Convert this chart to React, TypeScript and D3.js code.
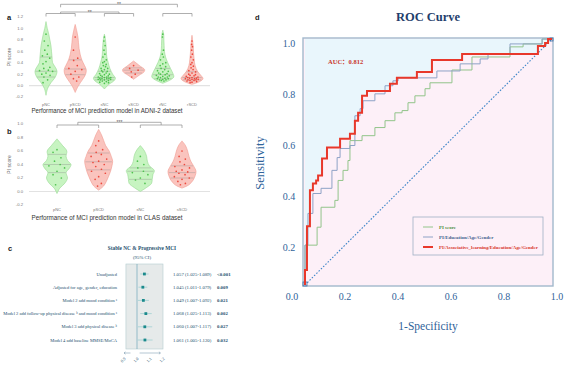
import * as d3 from 'd3';

// ---------- panel a : ADNI-2 ----------
const adniGroups = ['pNC', 'pSCD', 'sNC', 'sSCD', 'rNC', 'rSCD'];
const adniTicks = [-0.2, 0, 0.2, 0.4, 0.6, 0.8, 1.0, 1.2];
// violin outline: PI score values and relative density at each
const adniShapeV = [
  [-0.17, -0.05, 0.05, 0.15, 0.25, 0.32, 0.4, 0.5, 0.6, 0.7, 0.8, 0.9, 1.0, 1.12],
  [-0.12, 0, 0.1, 0.2, 0.28, 0.35, 0.45, 0.55, 0.65, 0.75, 0.85, 0.95, 1.07],
  [-0.06, 0.02, 0.08, 0.13, 0.2, 0.3, 0.4, 0.5, 0.6, 0.7, 0.8, 0.9],
  [0.11, 0.18, 0.24, 0.28, 0.34, 0.43],
  [0.04, 0.1, 0.15, 0.2, 0.3, 0.4, 0.5, 0.6, 0.7, 0.8, 0.9, 0.97],
  [0.02, 0.07, 0.12, 0.18, 0.25, 0.35, 0.45, 0.55, 0.65, 0.75, 0.88],
];
const adniShapeW = [
  [0, 0.15, 0.45, 0.85, 1.0, 0.85, 0.6, 0.55, 0.5, 0.45, 0.35, 0.25, 0.12, 0],
  [0, 0.3, 0.65, 0.95, 1.0, 0.85, 0.6, 0.45, 0.35, 0.3, 0.25, 0.15, 0],
  [0, 0.4, 0.85, 1.0, 0.75, 0.5, 0.35, 0.22, 0.18, 0.15, 0.1, 0],
  [0, 0.5, 0.95, 1.0, 0.6, 0],
  [0, 0.7, 1.0, 0.95, 0.7, 0.45, 0.25, 0.15, 0.12, 0.1, 0.08, 0],
  [0, 0.7, 1.0, 0.8, 0.5, 0.28, 0.2, 0.15, 0.12, 0.08, 0],
];
const adniQuart = [
  [0.15, 0.25, 0.5],
  [0.19, 0.29, 0.45],
  [0.1, 0.14, 0.25],
  [0.22, 0.27, 0.31],
  [0.12, 0.19, 0.3],
  [0.1, 0.14, 0.24],
];
const adniPoints = [
  [0.9, 0.78, 0.7, 0.62, 0.55, 0.52, 0.48, 0.42, 0.38, 0.32, 0.3, 0.27, 0.26, 0.25, 0.22, 0.2, 0.18, 0.15, 0.1, 0.05],
  [0.85, 0.62, 0.48, 0.44, 0.35, 0.3, 0.28, 0.25, 0.2, 0.15, 0.12, 0.08],
  [0.85, 0.78, 0.7, 0.62, 0.55, 0.5, 0.45, 0.42, 0.4, 0.37, 0.35, 0.33, 0.3, 0.3, 0.28, 0.26, 0.25, 0.24, 0.22, 0.21, 0.2, 0.19,
    0.18, 0.17, 0.16, 0.15, 0.15, 0.14, 0.14, 0.13, 0.13, 0.12, 0.12, 0.11, 0.11, 0.1, 0.1, 0.09, 0.08, 0.07, 0.06, 0.05, 0.04],
  [0.35, 0.3, 0.27, 0.24, 0.2, 0.15],
  [0.9, 0.85, 0.62, 0.55, 0.5, 0.45, 0.4, 0.38, 0.35, 0.33, 0.3, 0.28, 0.26, 0.25, 0.24, 0.22, 0.21, 0.2, 0.19, 0.18, 0.17,
    0.16, 0.15, 0.15, 0.14, 0.13, 0.12, 0.12, 0.11, 0.1, 0.1, 0.09, 0.08],
  [0.78, 0.72, 0.68, 0.62, 0.55, 0.5, 0.45, 0.4, 0.37, 0.34, 0.31, 0.28, 0.26, 0.24, 0.22, 0.2, 0.19, 0.18, 0.17, 0.16, 0.15,
    0.14, 0.14, 0.13, 0.13, 0.12, 0.12, 0.11, 0.11, 0.1, 0.1, 0.09, 0.09, 0.08, 0.07, 0.06, 0.05],
];

// ---------- panel b : CLAS ----------
const clasGroups = ['pNC', 'pSCD', 'sNC', 'sSCD'];
const clasTicks = [-0.2, 0, 0.2, 0.4, 0.6, 0.8, 1.0];
const clasShapeV = [
  [-0.03, 0.05, 0.12, 0.2, 0.28, 0.35, 0.4, 0.46, 0.52, 0.6, 0.68, 0.78],
  [0.02, 0.08, 0.15, 0.22, 0.3, 0.38, 0.45, 0.52, 0.6, 0.68, 0.76, 0.84, 0.92],
  [0.0, 0.06, 0.12, 0.18, 0.25, 0.31, 0.38, 0.45, 0.52, 0.6, 0.68],
  [0.05, 0.1, 0.17, 0.24, 0.3, 0.37, 0.44, 0.52, 0.6, 0.68, 0.75],
];
const clasShapeW = [
  [0, 0.2, 0.55, 0.75, 0.65, 0.9, 1.0, 0.75, 0.65, 0.7, 0.4, 0],
  [0, 0.35, 0.55, 0.7, 0.85, 0.95, 1.0, 0.9, 0.75, 0.5, 0.35, 0.2, 0],
  [0, 0.45, 0.8, 0.85, 0.9, 1.0, 0.65, 0.5, 0.45, 0.3, 0],
  [0, 0.5, 0.8, 0.95, 1.0, 0.85, 0.65, 0.5, 0.4, 0.25, 0],
];
const clasQuart = [
  [0.28, 0.4, 0.55],
  [0.32, 0.44, 0.57],
  [0.18, 0.3, 0.35],
  [0.2, 0.28, 0.38],
];
const clasPoints = [
  [0.62, 0.58, 0.5, 0.45, 0.4, 0.38, 0.35, 0.3, 0.25, 0.2, 0.1],
  [0.75, 0.68, 0.62, 0.58, 0.55, 0.52, 0.48, 0.45, 0.43, 0.4, 0.37, 0.33, 0.3, 0.27, 0.22, 0.18, 0.12, 0.08],
  [0.52, 0.45, 0.4, 0.35, 0.3, 0.28, 0.25, 0.2, 0.17, 0.12],
  [0.6, 0.52, 0.48, 0.44, 0.4, 0.37, 0.35, 0.32, 0.3, 0.29, 0.27, 0.25, 0.22, 0.2, 0.18, 0.15, 0.12, 0.1],
];

// ---------- panel c : forest plot ----------
const forestLabels = [
  'Unadjusted',
  'Adjusted for age, gender, education',
  'Model 2 add mood condition \u1d43',
  'Model 2 add follow-up physical disease \u1d47 and mood condition \u1d43',
  'Model 3 add physical disease \u1d47',
  'Model 4 add baseline MMSE/MoCA',
];
const forestOr = [1.057, 1.045, 1.049, 1.068, 1.06, 1.061];
const forestLo = [1.025, 1.011, 1.007, 1.025, 1.007, 1.005];
const forestHi = [1.089, 1.079, 1.092, 1.113, 1.117, 1.12];
const forestP = ['<0.001', '0.009', '0.021', '0.002', '0.027', '0.032'];
const forestTicks = [0.9, 1.0, 1.1, 1.2];

// ---------- panel d : ROC ----------
const rocTicks = [0, 0.2, 0.4, 0.6, 0.8, 1.0];
const piFpr = [0, 0.049, 0.065, 0.121, 0.134, 0.154, 0.174, 0.182, 0.231, 0.283, 0.324, 0.364, 0.393, 0.417, 0.445, 0.486, 0.506, 0.595, 0.676, 0.83, 0.883, 0.96, 1];
const piTpr = [0, 0.162, 0.235, 0.316, 0.344, 0.425, 0.466, 0.506, 0.587, 0.607, 0.64, 0.668, 0.7, 0.709, 0.741, 0.769, 0.798, 0.822, 0.874, 0.927, 0.968, 0.98, 1];
const pegFpr = [0, 0.012, 0.032, 0.065, 0.109, 0.13, 0.142, 0.182, 0.202, 0.223, 0.235, 0.283, 0.324, 0.356, 0.377, 0.534, 0.628, 0.709, 0.741, 0.83, 0.96, 1];
const pegTpr = [0, 0.162, 0.291, 0.372, 0.393, 0.466, 0.518, 0.555, 0.567, 0.688, 0.717, 0.749, 0.777, 0.81, 0.83, 0.842, 0.87, 0.899, 0.919, 0.939, 0.98, 1];
const paegFpr = [0, 0.008, 0.02, 0.032, 0.045, 0.053, 0.069, 0.089, 0.142, 0.182, 0.202, 0.215, 0.231, 0.251, 0.344, 0.372, 0.453, 0.514, 0.636, 0.943, 0.972, 0.984, 1];
const paegTpr = [0, 0.061, 0.239, 0.385, 0.413, 0.425, 0.445, 0.514, 0.559, 0.595, 0.615, 0.668, 0.7, 0.769, 0.789, 0.818, 0.842, 0.866, 0.915, 0.939, 0.972, 0.984, 1];
const rocNames = ['PI score', 'PI/Education/Age/Gender', 'PI/Associative_learning/Education/Age/Gender'];
const aucText = 'AUC\uff1a0.812';

const SANS = '"Liberation Sans", Arial, sans-serif';
const SERIF = '"Liberation Serif", "Times New Roman", "Noto Sans CJK SC", serif';
const GREEN = { fill: '#bdf2b6', stroke: '#97d892', dot: '#4fc24f' };
const RED = { fill: '#f9bab3', stroke: '#f09a90', dot: '#ec4a3e' };

type Bracket = { a: number; b: number; y: number; drop: number; label?: string };

function Violins(props: {
  groups: string[]; shapeV: number[][]; shapeW: number[][]; quart: number[][]; points: number[][];
  ticks: number[]; yDom: [number, number]; yRng: [number, number]; xRng: [number, number];
  half: number; catY: number; title: string; titleY: number; brackets: Bracket[];
}) {
  const { groups, shapeV, shapeW, quart, points, ticks, yDom, yRng, xRng, half, catY, title, titleY, brackets } = props;
  const y = d3.scaleLinear().domain(yDom).range(yRng);
  const x = d3.scalePoint<string>().domain(groups).range(xRng);
  const w = d3.scaleLinear().domain([0, 1]).range([0, half]);
  const jitter = [0, -0.55, 0.55, -0.3, 0.3, -0.8, 0.8];

  return (
    <g>
      <line x1={29} x2={210} y1={y(0)} y2={y(0)} stroke="#e2e2e2" strokeWidth={1.2} />
      {ticks.map(t => (
        <text key={t} x={23} y={y(t)} dy="0.35em" textAnchor="end" fontSize={4.2} fill="#777" fontFamily={SANS}>
          {t.toFixed(1)}
        </text>
      ))}
      <text transform={`translate(11,${(yRng[0] + yRng[1]) / 2}) rotate(-90)`} textAnchor="middle" fontSize={5} fill="#666" fontFamily={SANS}>PI score</text>
      {groups.map((g, i) => {
        const cx = x(g)!;
        const col = i % 2 === 0 ? GREEN : RED;
        const prof = shapeV[i].map((v, k) => [v, shapeW[i][k]] as [number, number]);
        const dens = d3.scaleLinear().domain(shapeV[i]).range(shapeW[i]).clamp(true);
        const area = d3.area<[number, number]>()
          .y(d => y(d[0]))
          .x0(d => cx - w(d[1]))
          .x1(d => cx + w(d[1]))
          .curve(d3.curveCatmullRom);
        return (
          <g key={g}>
            <path d={area(prof)!} fill={col.fill} fillOpacity={0.85} stroke={col.stroke} strokeWidth={0.6} />
            {quart[i].map((q, k) => (
              <line key={k} x1={cx - w(dens(q)) * 0.95} x2={cx + w(dens(q)) * 0.95} y1={y(q)} y2={y(q)}
                stroke="#8a8a8a" strokeWidth={0.45} strokeOpacity={0.8} />
            ))}
            {points[i].map((p, k) => (
              <circle key={k} cx={cx + w(dens(p)) * 0.75 * jitter[k % jitter.length]} cy={y(p)} r={0.85} fill={col.dot} />
            ))}
            <text x={cx} y={catY} textAnchor="middle" fontSize={4} fill="#777" fontFamily={SANS}>{g}</text>
          </g>
        );
      })}
      {brackets.map((b, i) => (
        <g key={i}>
          <path d={`M${b.a},${b.y + b.drop}V${b.y}H${b.b}V${b.y + b.drop}`} fill="none" stroke="#8c8c8c" strokeWidth={0.7} />
          {b.label && <text x={(b.a + b.b) / 2} y={b.y + 1.6} textAnchor="middle" fontSize={5} fill="#555" fontFamily={SANS}>{b.label}</text>}
        </g>
      ))}
      <text x={107} y={titleY} textAnchor="middle" fontSize={6.4} fill="#333" fontFamily={SANS} textLength={151} lengthAdjust="spacingAndGlyphs">{title}</text>
    </g>
  );
}

function Forest() {
  const x = d3.scaleLinear().domain([0.9, 1.2]).range([124, 163]);
  const y = d3.scalePoint<string>().domain(forestLabels).range([274, 340]);
  const teal = '#24506e';
  return (
    <g fontFamily={SERIF}>
      <text x={8} y={251} fontSize={7.5} fontWeight="bold" fontFamily={SANS} fill="#222">c</text>
      <text x={142} y={250} textAnchor="middle" fontSize={5.3} fontWeight="bold" fill={teal}>Stable NC &amp; Progressive MCI</text>
      <text x={142} y={259} textAnchor="middle" fontSize={4.8} fill={teal}>(95% CI)</text>
      <rect x={x(0.915)} y={264} width={x(1.2) - x(0.915)} height={85} fill="#e6eaea" stroke="#b4ccd0" strokeWidth={0.6} />
      <line x1={x(1)} x2={x(1)} y1={264} y2={349} stroke="#5b9ab2" strokeWidth={0.6} />
      {forestLabels.map((l, i) => {
        const yy = y(l)!;
        return (
          <g key={l}>
            <text x={117} y={yy} dy="0.35em" textAnchor="end" fontSize={4.5} fill={teal}>{l}</text>
            <line x1={x(forestLo[i])} x2={x(forestHi[i])} y1={yy} y2={yy} stroke="#9fd0d2" strokeWidth={0.8} />
            <rect x={x(forestOr[i]) - 1.4} y={yy - 1.4} width={2.8} height={2.8} fill="#1b8a8c" />
            <text x={173} y={yy} dy="0.35em" fontSize={4.8} fill={teal}>
              {`${forestOr[i].toFixed(3)} (${forestLo[i].toFixed(3)}-${forestHi[i].toFixed(3)})`}
            </text>
            <text x={217} y={yy} dy="0.35em" fontSize={4.8} fontWeight="bold" fill={teal}>{forestP[i]}</text>
          </g>
        );
      })}
      <path d={`M${x(0.95)},353H${x(0.9)}M${x(0.9) + 1.5},351.8L${x(0.9)},353L${x(0.9) + 1.5},354.2`} fill="none" stroke="#6b8fa5" strokeWidth={0.5} />
      <path d={`M${x(1.02)},353H${x(1.18)}M${x(1.18) - 1.5},351.8L${x(1.18)},353L${x(1.18) - 1.5},354.2`} fill="none" stroke="#6b8fa5" strokeWidth={0.5} />
      {forestTicks.map(t => (
        <text key={t} transform={`translate(${x(t)},361) rotate(-45)`} textAnchor="middle" fontSize={4.2} fill={teal}>{t.toFixed(1)}</text>
      ))}
    </g>
  );
}

function Roc() {
  const x = d3.scaleLinear().domain([0, 1]).range([305, 552]);
  const y = d3.scaleLinear().domain([0, 1]).range([285, 39]);
  // tick labels sit slightly offset from the frame in the original figure
  const xl = d3.scaleLinear().domain([0, 1]).range([292, 557]);
  const yl = d3.scaleLinear().domain([0, 1]).range([298, 43]);
  const toPts = (f: number[], t: number[]) => f.map((v, i) => [v, t[i]] as [number, number]);
  const line = d3.line<[number, number]>().x(d => x(d[0])).y(d => y(d[1])).curve(d3.curveStepBefore);
  const above = d3.area<[number, number]>().x(d => x(d[0])).y0(y(1)).y1(d => y(d[1])).curve(d3.curveStepBefore);
  const series = [
    { pts: toPts(piFpr, piTpr), color: '#92c48a', width: 1, text: '#4f8f3f' },
    { pts: toPts(pegFpr, pegTpr), color: '#8ea2c6', width: 1, text: '#3f5f8c' },
    { pts: toPts(paegFpr, paegTpr), color: '#e8382b', width: 2, text: '#d8352a' },
  ];
  const blue = '#2f639a';
  return (
    <g fontFamily={SERIF}>
      <text x={255} y={20} fontSize={7.5} fontWeight="bold" fontFamily={SANS} fill="#222">d</text>
      <text x={428} y={21} textAnchor="middle" fontSize={12.5} fontWeight="bold" fill="#1f3e6c">ROC Curve</text>
      <rect x={x(0) - 2} y={y(1) - 1} width={x(1) - x(0) + 3} height={y(0) - y(1) + 2} fill="#fdf0f8" />
      <path d={above(series[2].pts)!} fill="#e9f6fc" />
      <rect x={x(0) - 2} y={y(1) - 1} width={x(1) - x(0) + 3} height={y(0) - y(1) + 2} fill="none" stroke="#a2b8cc" strokeWidth={1.4} />
      <line x1={x(0)} y1={y(0)} x2={x(1)} y2={y(1)} stroke="#3f86c8" strokeWidth={1.1} strokeDasharray="1.6,1.6" />
      <rect x={x(0) - 2} y={y(0) - 3} width={4} height={4} fill="none" stroke="#3f6fa8" strokeWidth={0.8} />
      <rect x={x(1) - 2} y={y(1) - 1} width={3} height={3} fill="none" stroke="#3f6fa8" strokeWidth={0.8} />
      {series.map((s, i) => (
        <path key={i} d={line(s.pts)!} fill="none" stroke={s.color} strokeWidth={s.width} />
      ))}
      <text x={328} y={64} fontSize={6.5} fontWeight="bold" fill="#c8352a">{aucText}</text>
      <rect x={413} y={217} width={130} height={38} fill="none" stroke="#9fb0c4" strokeWidth={0.8} />
      {series.map((s, i) => (
        <g key={i}>
          <line x1={423} x2={433} y1={227 + i * 10} y2={227 + i * 10} stroke={s.color} strokeWidth={s.width} />
          <text x={439} y={227 + i * 10} dy="0.35em" fontSize={4.9} fontWeight="bold" fill={s.text}>{rocNames[i]}</text>
        </g>
      ))}
      {rocTicks.map(t => (
        <text key={'x' + t} x={xl(t)} y={300} textAnchor="middle" fontSize={10} fill={blue}>{t.toFixed(1)}</text>
      ))}
      {rocTicks.slice(1).map(t => (
        <text key={'y' + t} x={289} y={yl(t)} dy="0.35em" textAnchor="middle" fontSize={10} fill={blue}>{t.toFixed(1)}</text>
      ))}
      <text x={428} y={330} textAnchor="middle" fontSize={11.5} fill={blue}>1-Specificity</text>
      <text transform="translate(264,163) rotate(-90)" textAnchor="middle" fontSize={12.5} fill={blue}>Sensitivity</text>
    </g>
  );
}

export default function App() {
  const xa = d3.scalePoint<string>().domain(adniGroups).range([46, 192]);
  const xb = d3.scalePoint<string>().domain(clasGroups).range([57, 182]);
  const ma = (i: number, j: number) => (xa(adniGroups[i])! + xa(adniGroups[j])!) / 2;
  const mb = (i: number, j: number) => (xb(clasGroups[i])! + xb(clasGroups[j])!) / 2;
  const adniBrackets: Bracket[] = [
    { a: ma(0, 1), b: ma(4, 5), y: 4.3, drop: 3, label: '**' },
    { a: ma(0, 1), b: ma(2, 3), y: 12, drop: 1.5, label: '**' },
    { a: xa('pNC')!, b: xa('pSCD')!, y: 13.5, drop: 3 },
    { a: xa('sNC')!, b: xa('sSCD')!, y: 13.5, drop: 3 },
    { a: xa('rNC')!, b: xa('rSCD')!, y: 13.5, drop: 3 },
  ];
  const clasBrackets: Bracket[] = [
    { a: mb(0, 1), b: mb(2, 3), y: 122.3, drop: 2.7, label: '***' },
    { a: xb('pNC')!, b: xb('pSCD')!, y: 125, drop: 3 },
    { a: xb('sNC')!, b: xb('sSCD')!, y: 125, drop: 3 },
  ];
  return (
    <svg width={565} height={366} style={{ position: 'absolute', left: 0, top: 0, background: '#fff' }}>
      <rect width={565} height={366} fill="#fff" />
      <text x={7} y={20} fontSize={7.5} fontWeight="bold" fontFamily={SANS} fill="#222">a</text>
      <Violins groups={adniGroups} shapeV={adniShapeV} shapeW={adniShapeW} quart={adniQuart} points={adniPoints}
        ticks={adniTicks} yDom={[-0.2, 1.2]} yRng={[97, 17]} xRng={[46, 192]} half={11} catY={106}
        title="Performance of MCI prediction model in ADNI-2 dataset" titleY={113} brackets={adniBrackets} />
      <text x={7} y={134} fontSize={7.5} fontWeight="bold" fontFamily={SANS} fill="#222">b</text>
      <Violins groups={clasGroups} shapeV={clasShapeV} shapeW={clasShapeW} quart={clasQuart} points={clasPoints}
        ticks={clasTicks} yDom={[-0.2, 1.0]} yRng={[205, 124]} xRng={[57, 182]} half={14} catY={211}
        title="Performance of MCI prediction model in CLAS dataset" titleY={220} brackets={clasBrackets} />
      <Forest />
      <Roc />
    </svg>
  );
}
